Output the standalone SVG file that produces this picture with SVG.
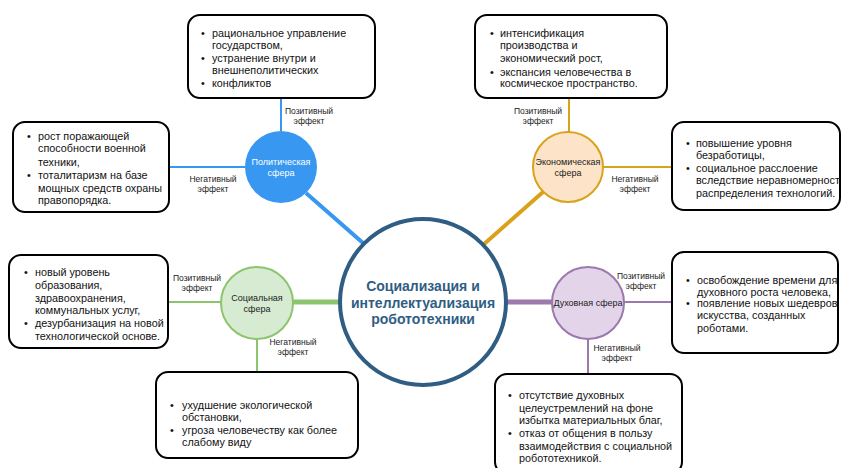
<svg xmlns="http://www.w3.org/2000/svg" width="842" height="468" viewBox="0 0 842 468">
<style>
.box{fill:#fff;stroke:#000;stroke-width:2}
.t{font-family:"Liberation Sans",Arial,sans-serif;font-size:10.8px;fill:#111}
.lbl{font-family:"Liberation Sans",Arial,sans-serif;font-size:8.5px;fill:#222;text-anchor:middle}
.ct{font-family:"Liberation Sans",Arial,sans-serif;font-size:9px;text-anchor:middle}
.main{font-family:"Liberation Sans",Arial,sans-serif;font-size:14px;font-weight:bold;fill:#2f5d83;text-anchor:middle}
</style>
<rect width="842" height="468" fill="#fff"/>
<g id="connectors" fill="none">
<line x1="281" y1="98" x2="281" y2="131" stroke="#3897f0" stroke-width="2"/>
<line x1="169" y1="167" x2="245" y2="167" stroke="#3897f0" stroke-width="2"/>
<line x1="306" y1="193" x2="363" y2="243" stroke="#3897f0" stroke-width="4"/>
<line x1="569" y1="98" x2="569" y2="132" stroke="#d9a21b" stroke-width="2"/>
<line x1="603" y1="167" x2="672" y2="167" stroke="#d9a21b" stroke-width="2"/>
<line x1="543" y1="192" x2="483" y2="245" stroke="#d9a21b" stroke-width="4"/>
<line x1="168" y1="302" x2="221" y2="302" stroke="#8dc46e" stroke-width="2"/>
<line x1="293" y1="302" x2="341" y2="302" stroke="#8dc46e" stroke-width="5"/>
<line x1="257" y1="339" x2="257" y2="372" stroke="#8dc46e" stroke-width="2"/>
<line x1="506" y1="302" x2="552" y2="302" stroke="#9c78ad" stroke-width="5"/>
<line x1="624" y1="302" x2="672" y2="302" stroke="#9c78ad" stroke-width="2"/>
<line x1="588" y1="339" x2="588" y2="374" stroke="#9c78ad" stroke-width="2"/>
<text class="lbl" x="309" y="114">Позитивный</text><text class="lbl" x="309" y="124">эффект</text>
<text class="lbl" x="213" y="182">Негативный</text><text class="lbl" x="213" y="192">эффект</text>
<text class="lbl" x="538" y="114">Позитивный</text><text class="lbl" x="538" y="124">эффект</text>
<text class="lbl" x="635" y="182">Негативный</text><text class="lbl" x="635" y="192">эффект</text>
<text class="lbl" x="197" y="281">Позитивный</text><text class="lbl" x="197" y="291">эффект</text>
<text class="lbl" x="293" y="345">Негативный</text><text class="lbl" x="293" y="355">эффект</text>
<text class="lbl" x="641" y="279">Позитивный</text><text class="lbl" x="641" y="289">эффект</text>
<text class="lbl" x="617" y="351">Негативный</text><text class="lbl" x="617" y="361">эффект</text>
</g>
<g id="center">
<circle cx="423" cy="302" r="83" fill="#fff" stroke="#2f5d83" stroke-width="4"/>
<text class="main" x="423" y="291">Социализация и</text>
<text class="main" x="423" y="308">интеллектуализация</text>
<text class="main" x="423" y="324">робототехники</text>
</g>
<g id="political">
<circle cx="281" cy="167" r="36" fill="#3897f0"/>
<text class="ct" x="281" y="165" fill="#fff">Политическая</text>
<text class="ct" x="281" y="176" fill="#fff">сфера</text>
</g>
<g id="economic">
<circle cx="568" cy="167" r="35" fill="#fde4c8" stroke="#d9a21b" stroke-width="2"/>
<text class="ct" x="568" y="165" fill="#222">Экономическая</text>
<text class="ct" x="568" y="176" fill="#222">сфера</text>
</g>
<g id="social">
<circle cx="257" cy="303" r="36" fill="#d6ebd2" stroke="#8dc46e" stroke-width="2"/>
<text class="ct" x="257" y="301" fill="#222">Социальная</text>
<text class="ct" x="257" y="312" fill="#222">сфера</text>
</g>
<g id="spiritual">
<circle cx="588" cy="303" r="36" fill="#e4d4e9" stroke="#9c78ad" stroke-width="2"/>
<text class="ct" x="588" y="306" fill="#222">Духовная сфера</text>
</g>
<g id="box-political-positive">
<rect class="box" x="188" y="15" width="187" height="83" rx="12"/>
<text class="t"><tspan x="201" y="37">•</tspan><tspan x="212" y="37">рациональное управление</tspan>
<tspan x="212" y="49">государством,</tspan>
<tspan x="201" y="62">•</tspan><tspan x="212" y="62">устранение внутри и</tspan>
<tspan x="212" y="74">внешнеполитических</tspan>
<tspan x="201" y="87">•</tspan><tspan x="212" y="87">конфликтов</tspan></text>
</g>
<g id="box-political-negative">
<rect class="box" x="13" y="122" width="156" height="90" rx="12"/>
<text class="t"><tspan x="27" y="140">•</tspan><tspan x="38" y="140">рост поражающей</tspan>
<tspan x="38" y="152">способности военной</tspan>
<tspan x="38" y="166">техники,</tspan>
<tspan x="27" y="179">•</tspan><tspan x="38" y="179">тоталитаризм на  базе</tspan>
<tspan x="38" y="192">мощных средств охраны</tspan>
<tspan x="38" y="204">правопорядка.</tspan></text>
</g>
<g id="box-economic-positive">
<rect class="box" x="475" y="15" width="192" height="83" rx="12"/>
<text class="t"><tspan x="490" y="37">•</tspan><tspan x="500" y="37">интенсификация</tspan>
<tspan x="500" y="49">производства и</tspan>
<tspan x="500" y="62">экономический рост,</tspan>
<tspan x="490" y="76">•</tspan><tspan x="500" y="76">экспансия человечества в</tspan>
<tspan x="500" y="87">космическое пространство.</tspan></text>
</g>
<g id="box-economic-negative">
<rect class="box" x="672" y="122" width="168" height="88" rx="12"/>
<text class="t"><tspan x="686" y="147">•</tspan><tspan x="696" y="147">повышение уровня</tspan>
<tspan x="696" y="159">безработицы,</tspan>
<tspan x="686" y="172">•</tspan><tspan x="696" y="172">социальное расслоение</tspan>
<tspan x="696" y="184">вследствие неравномерност</tspan>
<tspan x="696" y="197">распределения технологий.</tspan></text>
</g>
<g id="box-social-positive">
<rect class="box" x="9" y="255" width="159" height="93" rx="12"/>
<text class="t"><tspan x="24" y="276">•</tspan><tspan x="35" y="276">новый уровень</tspan>
<tspan x="35" y="289">образования,</tspan>
<tspan x="35" y="302">здравоохранения,</tspan>
<tspan x="35" y="314">коммунальных услуг,</tspan>
<tspan x="24" y="327">•</tspan><tspan x="35" y="327">дезурбанизация на новой</tspan>
<tspan x="35" y="340">технологической основе.</tspan></text>
</g>
<g id="box-social-negative">
<rect class="box" x="156" y="372" width="202" height="86" rx="12"/>
<text class="t"><tspan x="170" y="409">•</tspan><tspan x="182" y="409">ухудшение экологической</tspan>
<tspan x="182" y="421">обстановки,</tspan>
<tspan x="170" y="434">•</tspan><tspan x="182" y="434">угроза человечеству как более</tspan>
<tspan x="182" y="446">слабому виду</tspan></text>
</g>
<g id="box-spiritual-positive">
<rect class="box" x="672" y="252" width="166" height="101" rx="12"/>
<text class="t"><tspan x="686" y="284">•</tspan><tspan x="697" y="284">освобождение времени для</tspan>
<tspan x="697" y="296">духовного роста человека,</tspan>
<tspan x="686" y="307">•</tspan><tspan x="697" y="307">появление новых шедевров</tspan>
<tspan x="697" y="319">искусства, созданных</tspan>
<tspan x="697" y="332">роботами.</tspan></text>
</g>
<g id="box-spiritual-negative">
<rect class="box" x="495" y="374" width="187" height="100" rx="12"/>
<text class="t"><tspan x="508" y="399">•</tspan><tspan x="519" y="399">отсутствие духовных</tspan>
<tspan x="519" y="412">целеустремлений на фоне</tspan>
<tspan x="519" y="424">избытка материальных благ,</tspan>
<tspan x="508" y="437">•</tspan><tspan x="519" y="437">отказ от общения в пользу</tspan>
<tspan x="519" y="450">взаимодействия с социальной</tspan>
<tspan x="519" y="462">робототехникой.</tspan></text>
</g>
</svg>
